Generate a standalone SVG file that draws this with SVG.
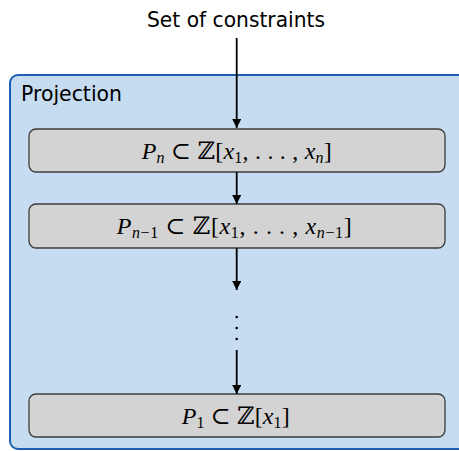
<svg xmlns="http://www.w3.org/2000/svg" width="459" height="451" viewBox="0 0 459 451">
  <style>
    .lbl { font-family: "DejaVu Sans", "Liberation Sans", sans-serif; font-size: 20.5px; fill: #000; }
    .box { fill: #d3d3d3; stroke: #3c3c3c; stroke-width: 1.3; }
    .math { font-family: "Liberation Serif", "DejaVu Serif", serif; font-size: 24px; fill: #000; }
    .v { font-style: italic; }
    .sub { font-size: 16px; }
    .edge { stroke: #000; stroke-width: 1.8; fill: none; marker-end: url(#ah); }
  </style>
  <defs>
    <marker id="ah" viewBox="0 0 10 10" refX="10" refY="5" markerUnits="userSpaceOnUse" markerWidth="10" markerHeight="9" orient="auto">
      <path d="M0,0 L10,5 L0,10 Z" fill="#000"/>
    </marker>
  </defs>

  <g id="projection">
    <rect x="10" y="75" width="470" height="374" rx="8" fill="#c6dcf0" stroke="#1c5fb0" stroke-width="2"/>
    <text class="lbl" x="21" y="101" textLength="101" lengthAdjust="spacingAndGlyphs">Projection</text>
  </g>

  <g id="input">
    <text class="lbl" x="236" y="27" text-anchor="middle" textLength="178" lengthAdjust="spacingAndGlyphs">Set of constraints</text>
  </g>

  <g id="pn">
    <rect class="box" x="29" y="129" width="416" height="43" rx="7"/>
    <text class="math" x="141.7" y="159" textLength="190"><tspan class="v">P</tspan><tspan class="v sub" dy="4">n</tspan><tspan dy="-4"> ⊂ ℤ[</tspan><tspan class="v">x</tspan><tspan class="sub" dy="4">1</tspan><tspan dy="-4">, . . . , </tspan><tspan class="v">x</tspan><tspan class="v sub" dy="4">n</tspan><tspan dy="-4">]</tspan></text>
  </g>

  <g id="pn1">
    <rect class="box" x="29" y="204" width="416" height="44" rx="7"/>
    <text class="math" x="116.7" y="234" textLength="235"><tspan class="v">P</tspan><tspan class="sub" dy="4"><tspan class="v">n</tspan>−1</tspan><tspan dy="-4"> ⊂ ℤ[</tspan><tspan class="v">x</tspan><tspan class="sub" dy="4">1</tspan><tspan dy="-4">, . . . , </tspan><tspan class="v">x</tspan><tspan class="sub" dy="4"><tspan class="v">n</tspan>−1</tspan><tspan dy="-4">]</tspan></text>
  </g>

  <g id="p1">
    <rect class="box" x="29" y="394" width="416" height="43" rx="7"/>
    <text class="math" x="181.7" y="424" textLength="108"><tspan class="v">P</tspan><tspan class="sub" dy="4">1</tspan><tspan dy="-4"> ⊂ ℤ[</tspan><tspan class="v">x</tspan><tspan class="sub" dy="4">1</tspan><tspan dy="-4">]</tspan></text>
  </g>

  <g id="dots">
    <circle cx="236.7" cy="317" r="1.3" fill="#000"/>
    <circle cx="236.7" cy="328" r="1.3" fill="#000"/>
    <circle cx="236.7" cy="339" r="1.3" fill="#000"/>
  </g>

  <g id="connectors">
    <line class="edge" x1="236.7" y1="38" x2="236.7" y2="128"/>
    <line class="edge" x1="236.7" y1="172" x2="236.7" y2="204"/>
    <line class="edge" x1="236.7" y1="248" x2="236.7" y2="290"/>
    <line class="edge" x1="236.7" y1="350" x2="236.7" y2="394"/>
  </g>
</svg>
